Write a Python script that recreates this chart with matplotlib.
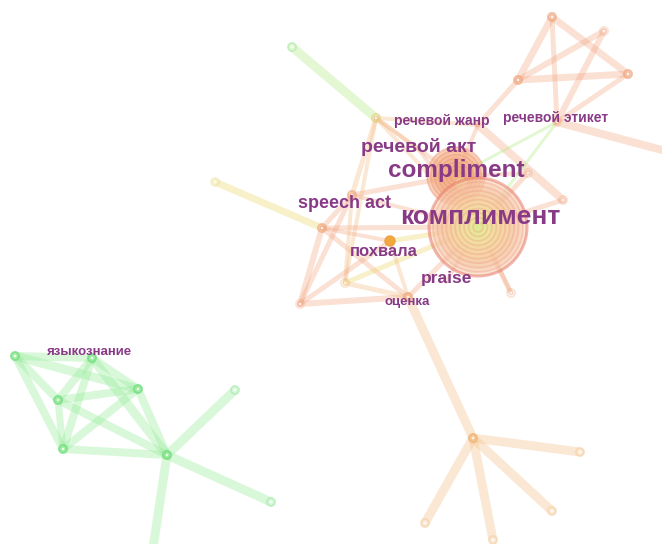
import matplotlib
matplotlib.use("Agg")
import matplotlib.pyplot as plt
from matplotlib.patches import Circle
import numpy as np

# ---------------- data ----------------
node_names = ["комплимент", "compliment", "речевой акт", "речевой жанр", "речевой этикет",
              "speech act", "n6", "похвала", "n8", "оценка", "n10", "n11", "n12", "n13",
              "n14", "n15", "n16", "praise",
              "A", "B", "C", "D", "Eend",
              "BN", "b1", "b2", "b3", "b4",
              "G1", "языкознание", "G3", "G4", "G5", "G6", "g1", "g2", "g3"]
node_x = [478, 456, 419, 478, 557, 352, 322, 390, 300, 408, 345, 511, 528, 563, 376, 215, 292, 446,
          552, 604, 628, 518, 662,
          473, 580, 552, 493, 425,
          15, 92, 138, 58, 63, 167, 235, 271, 153]
node_y = [227, 176, 150, 125, 122, 195, 228, 241, 304, 297, 283, 293, 173, 200, 118, 182, 47, 282,
          17, 31, 74, 80, 150,
          438, 452, 511, 540, 523,
          356, 358, 389, 400, 449, 455, 390, 502, 548]
node_group = ["o", "o", "o", "o", "o", "o", "o", "o", "o", "o", "o", "o", "o", "o", "y", "y", "g", "o",
              "o", "o", "o", "o", "o",
              "p", "p", "p", "p", "p",
              "g", "g", "g", "g", "g", "g", "g", "g", "g"]

edges = [
    # central cluster
    (14, 16, "l", 9), (14, 5, "p", 5), (14, 0, "p", 4), (14, 1, "o", 4), (14, 3, "p", 4), (14, 10, "p", 4),
    (15, 6, "y", 7), (6, 5, "o", 5), (6, 8, "o", 6), (6, 0, "o", 5), (6, 9, "o", 5), (6, 7, "o", 4),
    (5, 1, "o", 5), (5, 0, "o", 4), (5, 10, "p", 4), (8, 9, "o", 6), (8, 5, "o", 5), (8, 7, "o", 5),
    (10, 9, "p", 5), (10, 0, "y", 5), (9, 0, "o", 5), (9, 7, "p", 4), (9, 23, "p", 9),
    (11, 0, "o", 5), (11, 1, "o", 4), (12, 0, "o", 5), (12, 1, "o", 4), (13, 0, "o", 5),
    (13, 3, "o", 8), (4, 0, "l", 3), (4, 1, "l", 3), (4, 22, "o", 8), (21, 3, "o", 5),
    (7, 0, "y", 5), (17, 0, "o", 4), (2, 0, "o", 4), (2, 14, "p", 4), (3, 1, "o", 4),
    # top cluster
    (18, 21, "o", 7), (18, 20, "o", 7), (18, 4, "o", 5), (19, 21, "o", 6), (19, 4, "o", 6),
    (21, 20, "o", 7), (4, 20, "o", 5),
    # bottom cluster
    (23, 24, "p", 9), (23, 25, "p", 9), (23, 26, "p", 9), (23, 27, "p", 9),
    # green cluster
    (28, 29, "g", 8), (28, 30, "g", 9), (28, 31, "g", 8), (28, 32, "g", 8), (29, 31, "g", 8),
    (29, 32, "g", 8), (29, 33, "g", 9), (29, 30, "g", 8), (30, 31, "g", 8), (30, 32, "g", 8),
    (30, 33, "g", 8), (31, 32, "g", 7), (31, 33, "g", 8), (32, 33, "g", 8),
    (33, 34, "g", 9), (33, 35, "g", 9), (33, 36, "g", 9),
]

label_text = ["комплимент", "compliment", "речевой акт", "речевой жанр", "речевой этикет",
              "speech act", "похвала", "praise", "оценка", "языкознание"]
label_x = [480, 456, 419, 442, 556, 344, 384, 446, 407, 90]
label_y = [217, 170, 147, 121, 118, 203, 252, 278, 302, 352]
label_size = [19, 17.5, 14, 10, 10, 13, 12, 12.5, 9.5, 9.5]

# ---------------- drawing ----------------
W, H = 662, 544
fig = plt.figure(figsize=(W / 100, H / 100), dpi=100)
ax = fig.add_axes([0, 0, 1, 1])
ax.set_xlim(0, W)
ax.set_ylim(H, 0)
ax.axis("off")

edge_col = {"o": "#f2a27c", "p": "#f5c088", "g": "#90eb94", "y": "#ecdc7c", "l": "#b8ec8c"}
edge_alpha = {"o": 0.32, "p": 0.36, "g": 0.34, "y": 0.42, "l": 0.38}
node_col = {"o": "#f0a880", "p": "#f0b878", "g": "#72dc80", "y": "#e4d488"}

for i, j, c, w in edges:
    ax.plot([node_x[i], node_x[j]], [node_y[i], node_y[j]], color=edge_col[c],
            alpha=edge_alpha[c], lw=w * 0.72, solid_capstyle="round", zorder=1)

# small nodes
hubs = (6, 9, 23, 28, 29, 30, 31, 32, 33, 21, 20, 18, 5, 14)
for k in range(len(node_x)):
    if k in (0, 1, 2, 3, 7, 17):
        continue
    if node_names[k] in ("Eend", "g3"):
        continue
    c = node_col[node_group[k]]
    a = 0.7 if k in hubs else 0.3
    ax.add_patch(Circle((node_x[k], node_y[k]), 4.0, facecolor="none", edgecolor=c,
                        lw=1.4, alpha=a, zorder=2))
    ax.add_patch(Circle((node_x[k], node_y[k]), 1.3, facecolor="white", edgecolor="none",
                        alpha=0.8, zorder=2))

# похвала orange dot
ax.add_patch(Circle((node_x[7], node_y[7]), 5, facecolor="#f2a638", edgecolor="#eca040",
                    lw=1, alpha=0.95, zorder=3))

# compliment circle
cx, cy = node_x[1], node_y[1]
ax.add_patch(Circle((cx, cy), 29, facecolor="#f6b48c", edgecolor="none", alpha=0.45, zorder=3))
for r in np.linspace(29, 6, 7):
    ax.add_patch(Circle((cx, cy), r, facecolor="#f4b084", edgecolor="#ea8670", lw=1.2,
                        alpha=0.32, zorder=3))
ax.add_patch(Circle((cx + 5, cy + 8), 6, facecolor="#e8ea98", edgecolor="none", alpha=0.5, zorder=3))

# kompliment big ring circle
cx, cy = node_x[0], node_y[0]
ax.add_patch(Circle((cx, cy), 49, facecolor="#f8d0b0", edgecolor="#e87a6c", lw=2.2,
                    alpha=0.55, zorder=3))
radii = np.linspace(45, 5, 10)
fills = ["#f6c0a0", "#f6c8a0", "#f6d0a0", "#f6d8a0", "#f4dea0", "#f2e4a0",
         "#eeeaa0", "#e6ee9c", "#dcf094", "#d0f088"]
for r, col in zip(radii, fills):
    ax.add_patch(Circle((cx, cy), r, facecolor=col, edgecolor="#ee9a84", lw=1.3,
                        alpha=0.35, zorder=3))

for t, x, y, s in zip(label_text, label_x, label_y, label_size):
    ax.text(x, y, t, fontsize=s, fontweight="bold", color="#883a86",
            family=["Liberation Sans", "DejaVu Sans"], ha="center", va="center", zorder=5)

fig.savefig("out.png", dpi=100, facecolor="white")
